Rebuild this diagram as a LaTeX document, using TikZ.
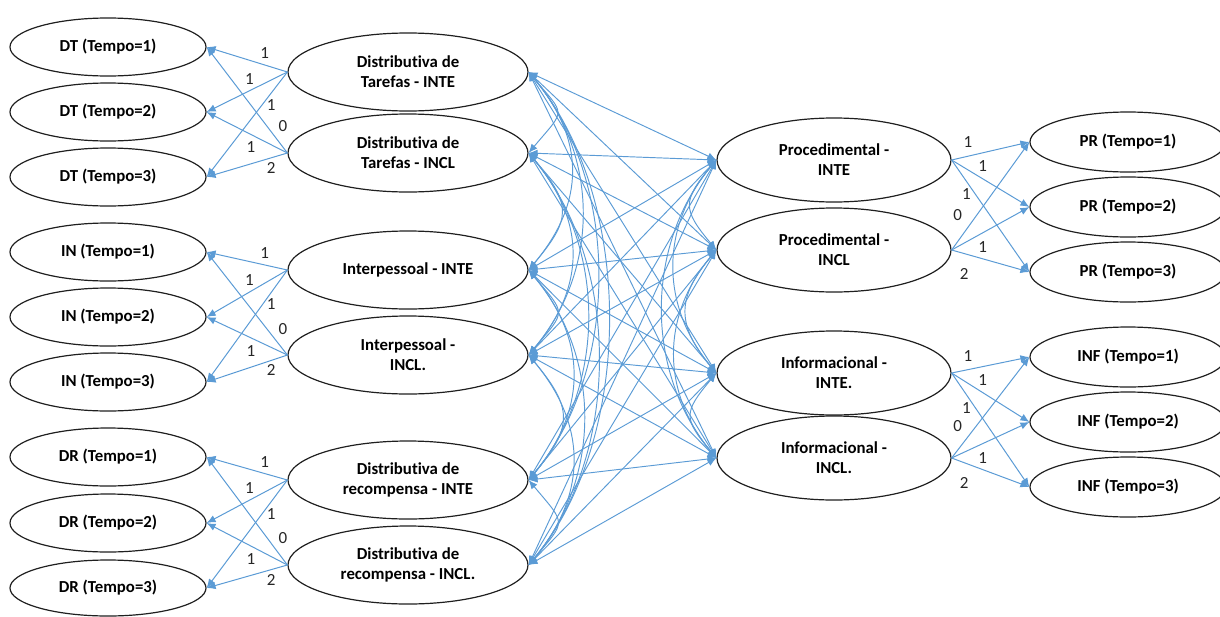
\documentclass[tikz,border=0pt]{standalone}
\usepackage{fontspec}
\setmainfont{Carlito}[Ligatures=NoCommon]
\usetikzlibrary{arrows.meta,shapes.geometric,calc}
\definecolor{linkblue}{HTML}{5B9BD5}
\begin{document}
\begin{tikzpicture}[x=1pt,y=1pt,
  obs/.style={ellipse, draw=black!88, line width=1.2pt, minimum width=196pt,
    minimum height=58pt, inner sep=0pt, align=center,
    font=\bfseries\fontsize{16.8}{20}\selectfont},
  lat/.style={obs, minimum width=240pt, minimum height=78pt},
  latr/.style={obs, minimum width=234pt, minimum height=84pt},
  tip/.tip={Latex[length=9pt,width=7.5pt]},
  load/.style={draw=linkblue, line width=1pt, -tip},
  cov/.style={draw=linkblue, line width=0.95pt, tip-tip},
  num/.style={font=\fontsize{17}{20}\selectfont, inner sep=1pt, text=black!85}
]
\useasboundingbox (0,0) rectangle (1220,-616);

% indicators, left column
\node[obs] (dt1) at (108,-47)  {DT (Tempo=1)};
\node[obs] (dt2) at (108,-112) {DT (Tempo=2)};
\node[obs] (dt3) at (108,-177) {DT (Tempo=3)};
\node[obs] (in1) at (108,-252) {IN (Tempo=1)};
\node[obs] (in2) at (108,-317) {IN (Tempo=2)};
\node[obs] (in3) at (108,-382) {IN (Tempo=3)};
\node[obs] (dr1) at (108,-457) {DR (Tempo=1)};
\node[obs] (dr2) at (108,-523) {DR (Tempo=2)};
\node[obs, minimum height=56pt] (dr3) at (108,-588) {DR (Tempo=3)};

% latent intercepts and slopes, left
\node[lat, alias=L1] (dti) at (408,-72)  {Distributiva de\\Tarefas - INTE};
\node[lat, alias=L2] (dtc) at (408,-153) {Distributiva de\\Tarefas - INCL};
\node[lat, alias=L3] (ini) at (408,-270) {Interpessoal - INTE};
\node[lat, alias=L4] (inc) at (408,-355) {Interpessoal -\\INCL.};
\node[lat, alias=L5] (dri) at (408,-480) {Distributiva de\\recompensa - INTE};
\node[lat, alias=L6] (drc) at (408,-565) {Distributiva de\\recompensa - INCL.};

% latent intercepts and slopes, right
\node[latr, alias=R1] (pri) at (834,-160) {Procedimental -\\INTE};
\node[latr, alias=R2] (prc) at (834,-250) {Procedimental -\\INCL};
\node[latr, alias=R3] (ifi) at (834,-373) {Informacional -\\INTE.};
\node[latr, alias=R4] (ifc) at (834,-458) {Informacional -\\INCL.};

% indicators, right column
\node[obs, minimum height=60pt] (pr1) at (1128,-142) {PR (Tempo=1)};
\node[obs, minimum height=60pt] (pr2) at (1128,-207) {PR (Tempo=2)};
\node[obs, minimum height=60pt] (pr3) at (1128,-272) {PR (Tempo=3)};
\node[obs, minimum height=60pt] (if1) at (1128,-357) {INF (Tempo=1)};
\node[obs, minimum height=60pt] (if2) at (1128,-422) {INF (Tempo=2)};
\node[obs, minimum height=60pt] (if3) at (1128,-487) {INF (Tempo=3)};

% loadings, left groups
\foreach \grp/\ia/\ib in {dt/dti/dtc, in/ini/inc, dr/dri/drc}{
  \draw[load] (\ia.west) -- node[num, pos=0.28, above=5pt] {1} (\grp1.east);
  \draw[load] (\ia.west) -- node[num, pos=0.47, above=5pt] {1} (\grp2.east);
  \draw[load] (\ia.west) -- node[num, pos=0.20, below=5pt] {1} (\grp3.east);
  \draw[load] (\ib.west) -- node[num, pos=0.25, right=10pt] {0} (\grp1.east);
  \draw[load] (\ib.west) -- node[num, pos=0.45, below=6pt] {1} (\grp2.east);
  \draw[load] (\ib.west) -- node[num, pos=0.20, below=3pt] {2} (\grp3.east);
}

% loadings, right groups
\foreach \grp/\ia/\ib in {pr/pri/prc, if/ifi/ifc}{
  \draw[load] (\ia.east) -- node[num, pos=0.21, above=7pt] {1} (\grp1.west);
  \draw[load] (\ia.east) -- node[num, pos=0.40, above=6pt] {1} (\grp2.west);
  \draw[load] (\ia.east) -- node[num, pos=0.19, below=6pt] {1} (\grp3.west);
  \draw[load] (\ib.east) -- node[num, pos=0.32, left=13pt] {0} (\grp1.west);
  \draw[load] (\ib.east) -- node[num, pos=0.40, below=7pt] {1} (\grp2.west);
  \draw[load] (\ib.east) -- node[num, pos=0.16, below=13pt] {2} (\grp3.west);
}

% covariances among the left latents
\foreach \i in {1,...,5}{
  \pgfmathtruncatemacro\jfirst{\i+1}
  \foreach \j in {\jfirst,...,6}{
    \draw[cov] let \p1=(L\i.east), \p2=(L\j.east), \n1={37+0.26*(\y1-\y2)} in
      (\p1) .. controls +(-50:\n1) and +(50:\n1) .. (\p2);
  }
}

% covariances among the right latents
\foreach \i in {1,...,3}{
  \pgfmathtruncatemacro\jfirst{\i+1}
  \foreach \j in {\jfirst,...,4}{
    \draw[cov] let \p1=(R\i.west), \p2=(R\j.west), \n1={28+0.28*(\y1-\y2)} in
      (\p1) .. controls +(-130:\n1) and +(130:\n1) .. (\p2);
  }
}

% covariances between left and right latents
\foreach \i in {1,...,6}{
  \foreach \j in {1,...,4}{
    \draw[cov] (L\i.east) -- (R\j.west);
  }
}
\end{tikzpicture}
\end{document}
